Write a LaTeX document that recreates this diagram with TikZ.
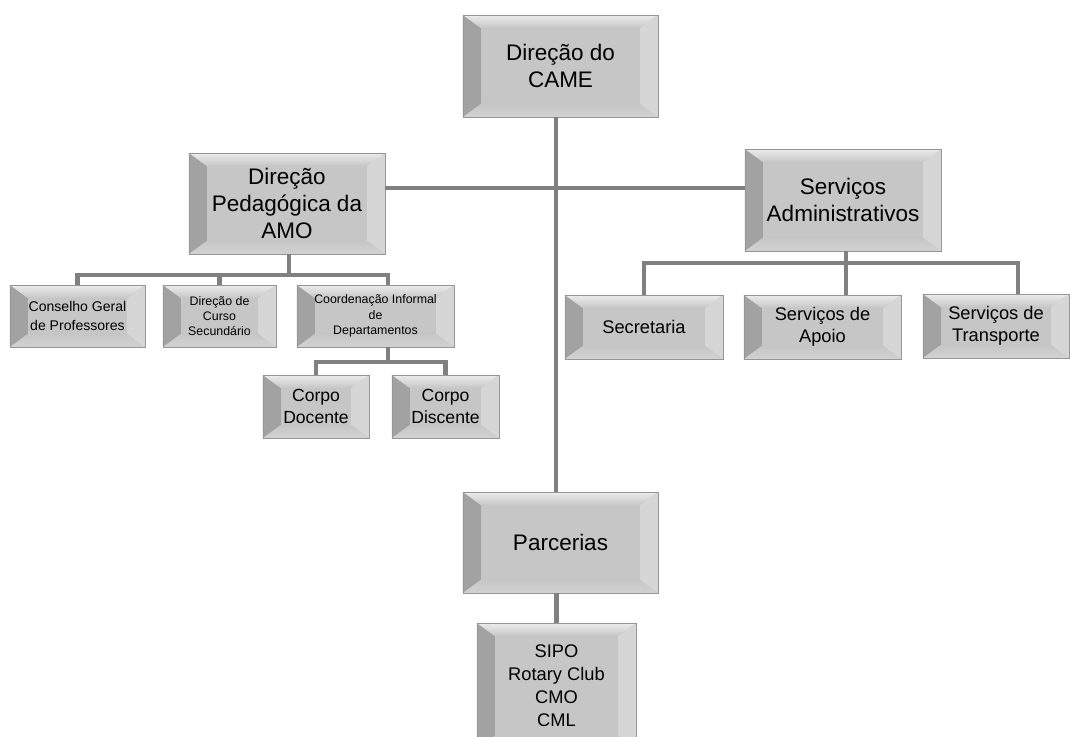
\documentclass[tikz,border=0pt]{standalone}
\usepackage{fontspec}
\setmainfont{Liberation Sans}
\usetikzlibrary{calc}

\definecolor{boxface}{RGB}{198,198,198}
\definecolor{boxleft}{RGB}{162,162,162}
\definecolor{boxtop}{RGB}{236,236,236}
\definecolor{boxright}{RGB}{214,214,214}
\definecolor{boxbottom}{RGB}{210,210,210}
\definecolor{boxedge}{RGB}{150,150,150}
\definecolor{linkgray}{RGB}{128,128,128}

\newcommand{\bevx}{0.45cm}
\newcommand{\bevy}{0.33cm}

\tikzset{
	orgbox/.style={draw=boxedge, line width=0.5pt, fill=boxface, align=center, inner sep=1pt,
		path picture={
			\path (path picture bounding box.south west) coordinate (pbl)
				(path picture bounding box.north west) coordinate (ptl)
				(path picture bounding box.north east) coordinate (ptr)
				(path picture bounding box.south east) coordinate (pbr);
			\fill[boxleft] (pbl) -- (ptl) -- ([shift={(\bevx,-\bevy)}]ptl) -- ([shift={(\bevx,\bevy)}]pbl) -- cycle;
			\shade[top color=boxtop, bottom color=boxface] (ptl) -- (ptr) -- ([shift={(-\bevx,-\bevy)}]ptr) -- ([shift={(\bevx,-\bevy)}]ptl) -- cycle;
			\fill[boxright] (ptr) -- (pbr) -- ([shift={(-\bevx,\bevy)}]pbr) -- ([shift={(-\bevx,-\bevy)}]ptr) -- cycle;
			\shade[top color=boxface, bottom color=boxbottom] (pbl) -- (pbr) -- ([shift={(-\bevx,\bevy)}]pbr) -- ([shift={(\bevx,\bevy)}]pbl) -- cycle;
		}},
	bigtxt/.style={font=\fontsize{16}{19.5}\selectfont},
	midtxt/.style={font=\fontsize{13}{15.8}\selectfont},
	corpotxt/.style={font=\fontsize{12.5}{16}\selectfont},
	smalltxt/.style={font=\fontsize{10}{13}\selectfont},
	tinytxt/.style={font=\fontsize{8.8}{10.9}\selectfont},
	link/.style={draw=linkgray, line width=3pt},
}

\begin{document}
\begin{tikzpicture}[x=0.025cm, y=-0.025cm]
	\useasboundingbox (0,0) rectangle (1070,736);
	\clip (0,0) rectangle (1070,736);

	\node[orgbox, bigtxt, minimum width=4.875cm, minimum height=2.55cm] (came) at (560.5,66) {Direção do\\CAME};
	\node[orgbox, bigtxt, minimum width=4.9cm, minimum height=2.525cm] (pedag) at (287,203.5) {Direção\\Pedagógica da\\AMO};
	\node[orgbox, bigtxt, minimum width=4.9cm, minimum height=2.55cm] (admin) at (843,200) {Serviços\\Administrativos};

	\node[orgbox, smalltxt, minimum width=3.375cm, minimum height=1.55cm] (conselho) at (77.5,316) {Conselho Geral\\de Professores};
	\node[orgbox, tinytxt, minimum width=2.825cm, minimum height=1.55cm] (curso) at (219.5,316) {Direção de\\Curso\\Secundário};
	\node[orgbox, tinytxt, minimum width=3.925cm, minimum height=1.55cm] (coord) at (375.5,316) {Coordenação Informal\\de\\Departamentos};
	\node[orgbox, corpotxt, minimum width=2.65cm, minimum height=1.575cm] (docente) at (316,406.5) {Corpo\\Docente};
	\node[orgbox, corpotxt, minimum width=2.675cm, minimum height=1.575cm] (discente) at (445.5,406.5) {Corpo\\Discente};

	\node[orgbox, midtxt, minimum width=3.95cm, minimum height=1.6cm] (secret) at (644,327) {Secretaria};
	\node[orgbox, midtxt, minimum width=3.925cm, minimum height=1.6cm] (apoio) at (822.5,327) {Serviços de\\Apoio};
	\node[orgbox, midtxt, minimum width=3.65cm, minimum height=1.6cm] (transp) at (996,326) {Serviços de\\Transporte};

	\node[orgbox, bigtxt, minimum width=4.875cm, minimum height=2.525cm] (parc) at (560.5,542.5) {Parcerias};
	\node[orgbox, midtxt, font=\fontsize{13}{16.4}\selectfont, minimum width=3.975cm, minimum height=3.15cm] (sipo) at (556.5,686) {SIPO\\Rotary Club\\CMO\\CML};

	\coordinate (hub) at (556,188);
	\draw[link] (came.south -| hub) -- (parc.north -| hub);
	\draw[link] (pedag.east |- hub) -- (admin.west |- hub);
	\draw[link] (parc.south -| sipo) -- (sipo.north);

	\coordinate (lb) at ($(pedag.south)+(2,21)$);
	\coordinate (coordtop) at ($(coord.north)+(12.5,0)$);
	\draw[link] (pedag.south -| lb) -- (lb);
	\draw[link] (conselho.north) |- (lb) -| (coordtop);
	\draw[link] (curso.north) -- (curso.north |- lb);

	\coordinate (cb) at ($(coord.south)+(12.5,15)$);
	\draw[link] (coord.south -| cb) -- (cb);
	\draw[link] (docente.north) |- (cb) -| (discente.north);

	\coordinate (rb) at ($(admin.south)+(3,12)$);
	\coordinate (transptop) at ($(transp.north)+(22,0)$);
	\draw[link] (admin.south -| rb) -- (rb);
	\draw[link] (secret.north) |- (rb) -| (transptop);
	\draw[link] (rb) -- (rb |- apoio.north);
\end{tikzpicture}
\end{document}
